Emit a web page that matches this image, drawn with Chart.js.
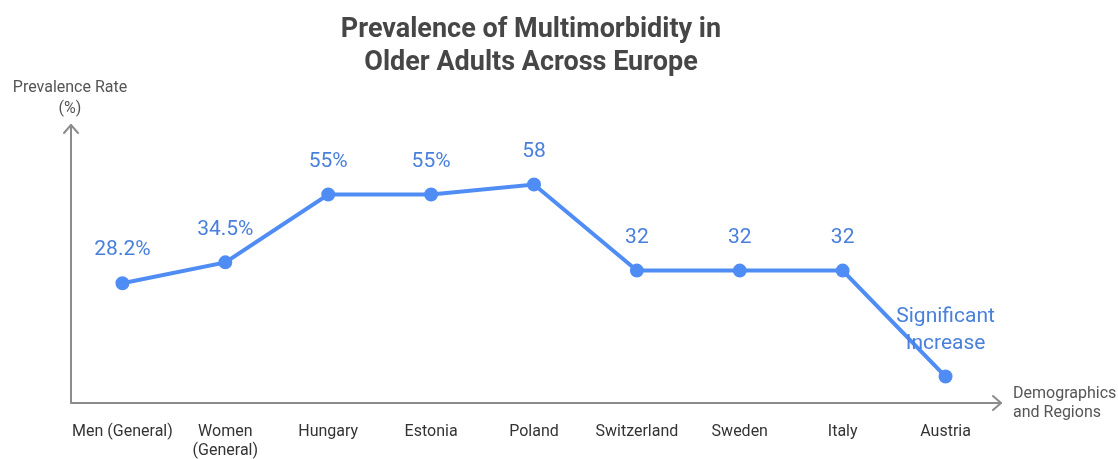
<!DOCTYPE html>
<html>
<head>
<meta charset="utf-8">
<script src="https://cdn.jsdelivr.net/npm/chart.js@4/dist/chart.umd.min.js"></script>
<style>
  html, body { margin: 0; padding: 0; background: #fff; }
  #wrap { width: 1118px; height: 459px; position: relative; }
</style>
</head>
<body>
<div id="wrap"><canvas id="myChart"></canvas></div>
<script>
const ctx = document.getElementById('myChart').getContext('2d');

const categories = [
  'Men (General)', ['Women', '(General)'], 'Hungary', 'Estonia', 'Poland',
  'Switzerland', 'Sweden', 'Italy', 'Austria'
];
const prevalence = [28.2, 34.5, 55, 55, 58, 32, 32, 32, 0];
const pointLabels = ['28.2%', '34.5%', '55%', '55%', '58', '32', '32', '32', ['Significant', 'Increase']];
const titleLines = ['Prevalence of Multimorbidity in', 'Older Adults Across Europe'];
const yTitle = ['Prevalence Rate', '(%)'];
const xTitle = ['Demographics', 'and Regions'];

const lineBlue = '#4f8df5';
const labelBlue = '#4a80dc';
const axisGrey = '#8c8c8c';

// title, arrows, axis titles and the value labels
const decorations = {
  id: 'decorations',
  afterDraw(chart) {
    const c = chart.ctx;
    const area = chart.chartArea;
    c.save();

    c.fillStyle = '#464646';
    c.font = 'bold 27px Roboto';
    c.textAlign = 'center';
    c.textBaseline = 'middle';
    titleLines.forEach((t, i) => c.fillText(t, 531, 30 + i * 33));

    // axes with arrow heads
    c.strokeStyle = axisGrey;
    c.lineWidth = 2;
    c.lineCap = 'round';
    c.lineJoin = 'round';
    c.beginPath();
    c.moveTo(area.left, area.top);
    c.lineTo(area.left, area.bottom);
    c.lineTo(area.right + 4, area.bottom);
    c.stroke();
    c.beginPath();
    c.moveTo(area.left - 7, area.top + 8);
    c.lineTo(area.left, area.top);
    c.lineTo(area.left + 7, area.top + 8);
    c.moveTo(area.right - 4, area.bottom - 7);
    c.lineTo(area.right + 4, area.bottom);
    c.lineTo(area.right - 4, area.bottom + 7);
    c.stroke();

    c.fillStyle = '#555';
    c.font = '16px Roboto';
    c.textAlign = 'center';
    yTitle.forEach((t, i) => c.fillText(t, 70, 88 + i * 21));
    c.textAlign = 'left';
    xTitle.forEach((t, i) => c.fillText(t, 1013, 394 + i * 19));

    // value labels above each point
    const meta = chart.getDatasetMeta(0);
    c.fillStyle = labelBlue;
    c.font = '21px Roboto';
    c.textAlign = 'center';
    meta.data.forEach((pt, i) => {
      const lines = [].concat(pointLabels[i]);
      lines.forEach((t, j) => {
        c.fillText(t, pt.x, pt.y - 33 - (lines.length - 1 - j) * 27);
      });
    });
    c.restore();
  }
};

const chart = new Chart(ctx, {
  type: 'line',
  data: {
    labels: categories,
    datasets: [{
      data: prevalence,
      borderColor: lineBlue,
      backgroundColor: lineBlue,
      borderWidth: 4,
      pointRadius: 5,
      pointHoverRadius: 5,
      tension: 0,
      fill: false
    }]
  },
  options: {
    responsive: true,
    maintainAspectRatio: false,
    animation: false,
    layout: { padding: { left: 71, right: 121, top: 125, bottom: 0 } },
    plugins: {
      legend: { display: false },
      title: { display: false },
      tooltip: { enabled: false }
    },
    scales: {
      x: {
        offset: true,
        grid: { display: false, drawTicks: false },
        border: { display: false },
        ticks: {
          color: '#333',
          font: { family: 'Roboto', size: 16, lineHeight: 1.15 },
          padding: 20,
          maxRotation: 0,
          autoSkip: false
        },
        afterFit: s => { s.height = 56; }
      },
      y: {
        display: false,
        min: -8,
        max: 76
      }
    }
  },
  plugins: [decorations]
});
</script>
</body>
</html>
